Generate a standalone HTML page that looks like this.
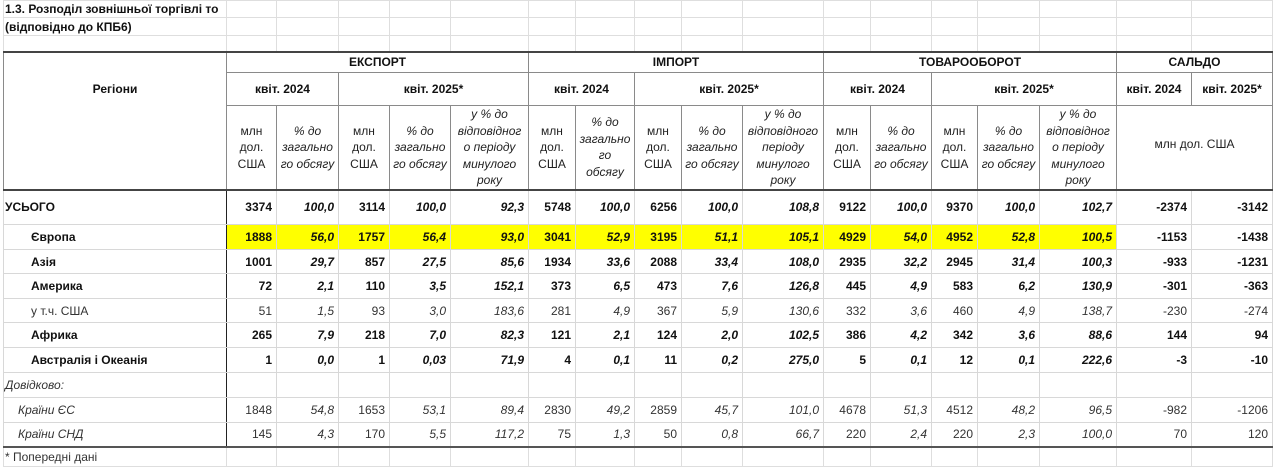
<!DOCTYPE html>
<html><head><meta charset="utf-8">
<style>
body{margin:0;background:#fff;width:1280px;height:465px;overflow:hidden;font-family:"Liberation Sans",Arial,sans-serif;color:#111}
table{position:absolute;left:3px;top:0;border-collapse:collapse;table-layout:fixed;font-size:12px}
td{border:1px solid #d8d8d8;padding:0 4px;white-space:nowrap;overflow:visible;text-align:right;line-height:14px}
.t td{border-color:#dedede}
.h td{border:1px solid #8a8a8a;text-align:center;font-weight:bold}
.h3 td{font-weight:normal;font-style:normal;line-height:16.5px;padding:0 1px;color:#222}
.h3 td.i{font-style:italic}
.top td{border-top:2px solid #444}
.sep td{border-top:2px solid #444}
.bot td{border-bottom:2px solid #555}
td.r{border-right:1px solid #222;text-align:left}
.b{font-weight:bold}
.i{font-style:italic}
.y td.f{background:#ffff00}
.g{color:#333}
.bi{font-weight:bold;font-style:italic}
</style></head><body>
<table>
<colgroup>
<col style="width:223px"><col style="width:50px"><col style="width:62px"><col style="width:51px"><col style="width:61px"><col style="width:78px"><col style="width:47px"><col style="width:59px"><col style="width:47px"><col style="width:61px"><col style="width:81px"><col style="width:47px"><col style="width:61px"><col style="width:46px"><col style="width:62px"><col style="width:77px"><col style="width:75px"><col style="width:81px">
</colgroup>
<tr class="t" style="height:17px"><td style="text-align:left;font-weight:bold;padding-left:1px">1.3. Розподіл зовнішньої торгівлі то</td><td></td><td></td><td></td><td></td><td></td><td></td><td></td><td></td><td></td><td></td><td></td><td></td><td></td><td></td><td></td><td></td><td></td></tr>
<tr class="t" style="height:18px"><td style="text-align:left;font-weight:bold;padding-left:1px">(відповідно до КПБ6)</td><td></td><td></td><td></td><td></td><td></td><td></td><td></td><td></td><td></td><td></td><td></td><td></td><td></td><td></td><td></td><td></td><td></td></tr>
<tr class="t" style="height:16px"><td></td><td></td><td></td><td></td><td></td><td></td><td></td><td></td><td></td><td></td><td></td><td></td><td></td><td></td><td></td><td></td><td></td><td></td></tr>
<tr class="h top" style="height:21px"><td rowspan="3" style="vertical-align:top;padding-top:29px">Регіони</td><td colspan="5">ЕКСПОРТ</td><td colspan="5">ІМПОРТ</td><td colspan="5">ТОВАРООБОРОТ</td><td colspan="2">САЛЬДО</td></tr>
<tr class="h" style="height:33px"><td colspan="2">квіт. 2024</td><td colspan="3">квіт. 2025*</td><td colspan="2">квіт. 2024</td><td colspan="3">квіт. 2025*</td><td colspan="2">квіт. 2024</td><td colspan="3">квіт. 2025*</td><td>квіт. 2024</td><td>квіт. 2025*</td></tr>
<tr class="h h3" style="height:81px"><td>млн<br>дол.<br>США</td><td class="i">% до<br>загально<br>го обсягу</td><td>млн<br>дол.<br>США</td><td class="i">% до<br>загально<br>го обсягу</td><td class="i">у % до<br>відповідног<br>о періоду<br>минулого<br>року</td><td>млн<br>дол.<br>США</td><td class="i">% до<br>загально<br>го<br>обсягу</td><td>млн<br>дол.<br>США</td><td class="i">% до<br>загально<br>го обсягу</td><td class="i">у % до<br>відповідного<br>періоду<br>минулого<br>року</td><td>млн<br>дол.<br>США</td><td class="i">% до<br>загально<br>го обсягу</td><td>млн<br>дол.<br>США</td><td class="i">% до<br>загально<br>го обсягу</td><td class="i">у % до<br>відповідног<br>о періоду<br>минулого<br>року</td><td colspan="2" style="vertical-align:top;padding-top:30px">млн дол. США</td></tr>
<tr class="sep" style="height:35px"><td class="r b" style="padding-left:1px">УСЬОГО</td><td class="b">3374</td><td class="bi">100,0</td><td class="b">3114</td><td class="bi">100,0</td><td class="bi">92,3</td><td class="b">5748</td><td class="bi">100,0</td><td class="b">6256</td><td class="bi">100,0</td><td class="bi">108,8</td><td class="b">9122</td><td class="bi">100,0</td><td class="b">9370</td><td class="bi">100,0</td><td class="bi">102,7</td><td class="b">-2374</td><td class="b">-3142</td></tr>
<tr class="y" style="height:25px"><td class="r b" style="padding-left:27px">Європа</td><td class="f b">1888</td><td class="f bi">56,0</td><td class="f b">1757</td><td class="f bi">56,4</td><td class="f bi">93,0</td><td class="f b">3041</td><td class="f bi">52,9</td><td class="f b">3195</td><td class="f bi">51,1</td><td class="f bi">105,1</td><td class="f b">4929</td><td class="f bi">54,0</td><td class="f b">4952</td><td class="f bi">52,8</td><td class="f bi">100,5</td><td class="b">-1153</td><td class="b">-1438</td></tr>
<tr style="height:24px"><td class="r b" style="padding-left:27px">Азія</td><td class="b">1001</td><td class="bi">29,7</td><td class="b">857</td><td class="bi">27,5</td><td class="bi">85,6</td><td class="b">1934</td><td class="bi">33,6</td><td class="b">2088</td><td class="bi">33,4</td><td class="bi">108,0</td><td class="b">2935</td><td class="bi">32,2</td><td class="b">2945</td><td class="bi">31,4</td><td class="bi">100,3</td><td class="b">-933</td><td class="b">-1231</td></tr>
<tr style="height:25px"><td class="r b" style="padding-left:27px">Америка</td><td class="b">72</td><td class="bi">2,1</td><td class="b">110</td><td class="bi">3,5</td><td class="bi">152,1</td><td class="b">373</td><td class="bi">6,5</td><td class="b">473</td><td class="bi">7,6</td><td class="bi">126,8</td><td class="b">445</td><td class="bi">4,9</td><td class="b">583</td><td class="bi">6,2</td><td class="bi">130,9</td><td class="b">-301</td><td class="b">-363</td></tr>
<tr class="g" style="height:24px"><td class="r" style="padding-left:27px">у т.ч. США</td><td>51</td><td class="i">1,5</td><td>93</td><td class="i">3,0</td><td class="i">183,6</td><td>281</td><td class="i">4,9</td><td>367</td><td class="i">5,9</td><td class="i">130,6</td><td>332</td><td class="i">3,6</td><td>460</td><td class="i">4,9</td><td class="i">138,7</td><td>-230</td><td>-274</td></tr>
<tr style="height:25px"><td class="r b" style="padding-left:27px">Африка</td><td class="b">265</td><td class="bi">7,9</td><td class="b">218</td><td class="bi">7,0</td><td class="bi">82,3</td><td class="b">121</td><td class="bi">2,1</td><td class="b">124</td><td class="bi">2,0</td><td class="bi">102,5</td><td class="b">386</td><td class="bi">4,2</td><td class="b">342</td><td class="bi">3,6</td><td class="bi">88,6</td><td class="b">144</td><td class="b">94</td></tr>
<tr style="height:25px"><td class="r b" style="padding-left:27px">Австралія і Океанія</td><td class="b">1</td><td class="bi">0,0</td><td class="b">1</td><td class="bi">0,03</td><td class="bi">71,9</td><td class="b">4</td><td class="bi">0,1</td><td class="b">11</td><td class="bi">0,2</td><td class="bi">275,0</td><td class="b">5</td><td class="bi">0,1</td><td class="b">12</td><td class="bi">0,1</td><td class="bi">222,6</td><td class="b">-3</td><td class="b">-10</td></tr>
<tr class="g" style="height:25px"><td class="r i" style="padding-left:1px">Довідково:</td><td></td><td></td><td></td><td></td><td></td><td></td><td></td><td></td><td></td><td></td><td></td><td></td><td></td><td></td><td></td><td></td><td></td></tr>
<tr class="g" style="height:25px"><td class="r i" style="padding-left:14px">Країни ЄС</td><td>1848</td><td class="i">54,8</td><td>1653</td><td class="i">53,1</td><td class="i">89,4</td><td>2830</td><td class="i">49,2</td><td>2859</td><td class="i">45,7</td><td class="i">101,0</td><td>4678</td><td class="i">51,3</td><td>4512</td><td class="i">48,2</td><td class="i">96,5</td><td>-982</td><td>-1206</td></tr>
<tr class="g bot" style="height:24px"><td class="r i" style="padding-left:14px">Країни СНД</td><td>145</td><td class="i">4,3</td><td>170</td><td class="i">5,5</td><td class="i">117,2</td><td>75</td><td class="i">1,3</td><td>50</td><td class="i">0,8</td><td class="i">66,7</td><td>220</td><td class="i">2,4</td><td>220</td><td class="i">2,3</td><td class="i">100,0</td><td>70</td><td>120</td></tr>
<tr class="t" style="height:20px"><td style="text-align:left;padding-left:1px;color:#333">* Попередні дані</td><td></td><td></td><td></td><td></td><td></td><td></td><td></td><td></td><td></td><td></td><td></td><td></td><td></td><td></td><td></td><td></td><td></td></tr>
</table>
</body></html>
